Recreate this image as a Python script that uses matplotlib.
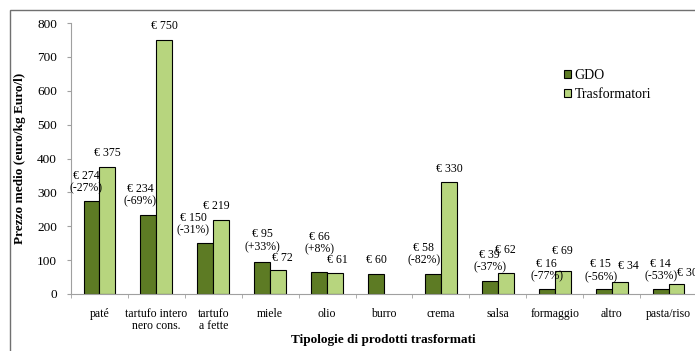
import numpy as np
import matplotlib.pyplot as plt
from matplotlib.patches import Rectangle

categories = ["paté", "tartufo intero\nnero cons.", "tartufo\na fette", "miele", "olio",
              "burro", "crema", "salsa", "formaggio", "altro", "pasta/riso"]
gdo = [274, 234, 150, 95, 66, 60, 58, 39, 16, 15, 14]
trasf = [375, 750, 219, 72, 61, 0, 330, 62, 69, 34, 30]
diff = ["-27%", "-69%", "-31%", "+33%", "+8%", None, "-82%", "-37%", "-77%", "-56%", "-53%"]

# label nudges in pixels (dx, height of text centre above bar top)
gdo_dx = [-5, -8, -12, 0, 0, 0, -9, 0, 0, -3, 0]
gdo_dy = [13, 13, 13, 15, 22, 14, 14, 13, 12, 12, 13]
tr_dx = [0, 0, -5, 4, 2, 0, 0, 0, 0, 9, 11]
tr_dy = [14, 14, 14, 12, 13, 0, 13, 23, 20, 16, 11]

plt.rcParams["font.family"] = ["Liberation Serif", "DejaVu Serif"]

c_gdo = "#5d7b24"
c_tr = "#b7d57e"

fig = plt.figure(figsize=(6.95, 3.51), dpi=100)
ax = fig.add_axes([71 / 695, 1 - 294 / 351, 626 / 695, 271 / 351])

x = np.arange(len(categories))
w = 0.28
ax.bar(x - w / 2, gdo, w, color=c_gdo, edgecolor="black", lw=0.8, label="GDO")
tr_vals = [v if v > 0 else np.nan for v in trasf]
ax.bar(x + w / 2, tr_vals, w, color=c_tr, edgecolor="black", lw=0.8, label="Trasformatori")

for i in range(len(categories)):
    txt = f"€ {gdo[i]}" if diff[i] is None else f"€ {gdo[i]}\n({diff[i]})"
    ax.annotate(txt, (x[i] - w / 2, gdo[i]), xytext=(gdo_dx[i], gdo_dy[i] - 6),
                textcoords="offset pixels", ha="center", va="bottom",
                fontsize=8.5, linespacing=1.05)
    if trasf[i] > 0:
        ax.annotate(f"€ {trasf[i]}", (x[i] + w / 2, trasf[i]), xytext=(tr_dx[i], tr_dy[i] - 6),
                    textcoords="offset pixels", ha="center", va="bottom", fontsize=8.5)

ax.set_xlim(-0.5, len(categories) - 0.5)
ax.set_ylim(0, 800)
ax.set_yticks(range(0, 801, 100))
ax.set_xticks(x)
ax.set_xticklabels(categories, fontsize=8.5, linespacing=1.05)
ax.set_xticks(np.arange(-0.5, len(categories)), minor=True)
ax.tick_params(axis="x", which="major", length=0, pad=10)
ax.tick_params(axis="x", which="minor", length=3, color="#a0a0a0", direction="out")
ax.tick_params(axis="y", length=3, color="#a0a0a0", labelsize=9.5, pad=7)
for s in ["top", "right"]:
    ax.spines[s].set_visible(False)
for s in ["left", "bottom"]:
    ax.spines[s].set_color("#a0a0a0")
    ax.spines[s].set_linewidth(0.8)

fig.text(20 / 695, 1 - 158 / 351, "Prezzo medio (euro/kg Euro/l)", fontsize=9.5,
         fontweight="bold", rotation=90, ha="center", va="center")
fig.text(383 / 695, 1 - 340 / 351, "Tipologie di prodotti trasformati", fontsize=9.5,
         fontweight="bold", ha="center", va="center")

ax.legend(loc="upper left", bbox_to_anchor=(0.778, 0.852), frameon=False, fontsize=10,
          handlelength=0.55, handleheight=0.55, handletextpad=0.25, labelspacing=0.45,
          borderaxespad=0)

fig.patches.append(Rectangle((10 / 695, -0.1), 1.1, 1 - 10 / 351 + 0.1,
                             transform=fig.transFigure, fill=False,
                             edgecolor="#707070", lw=1.0))

fig.savefig("out.png", dpi=100)
